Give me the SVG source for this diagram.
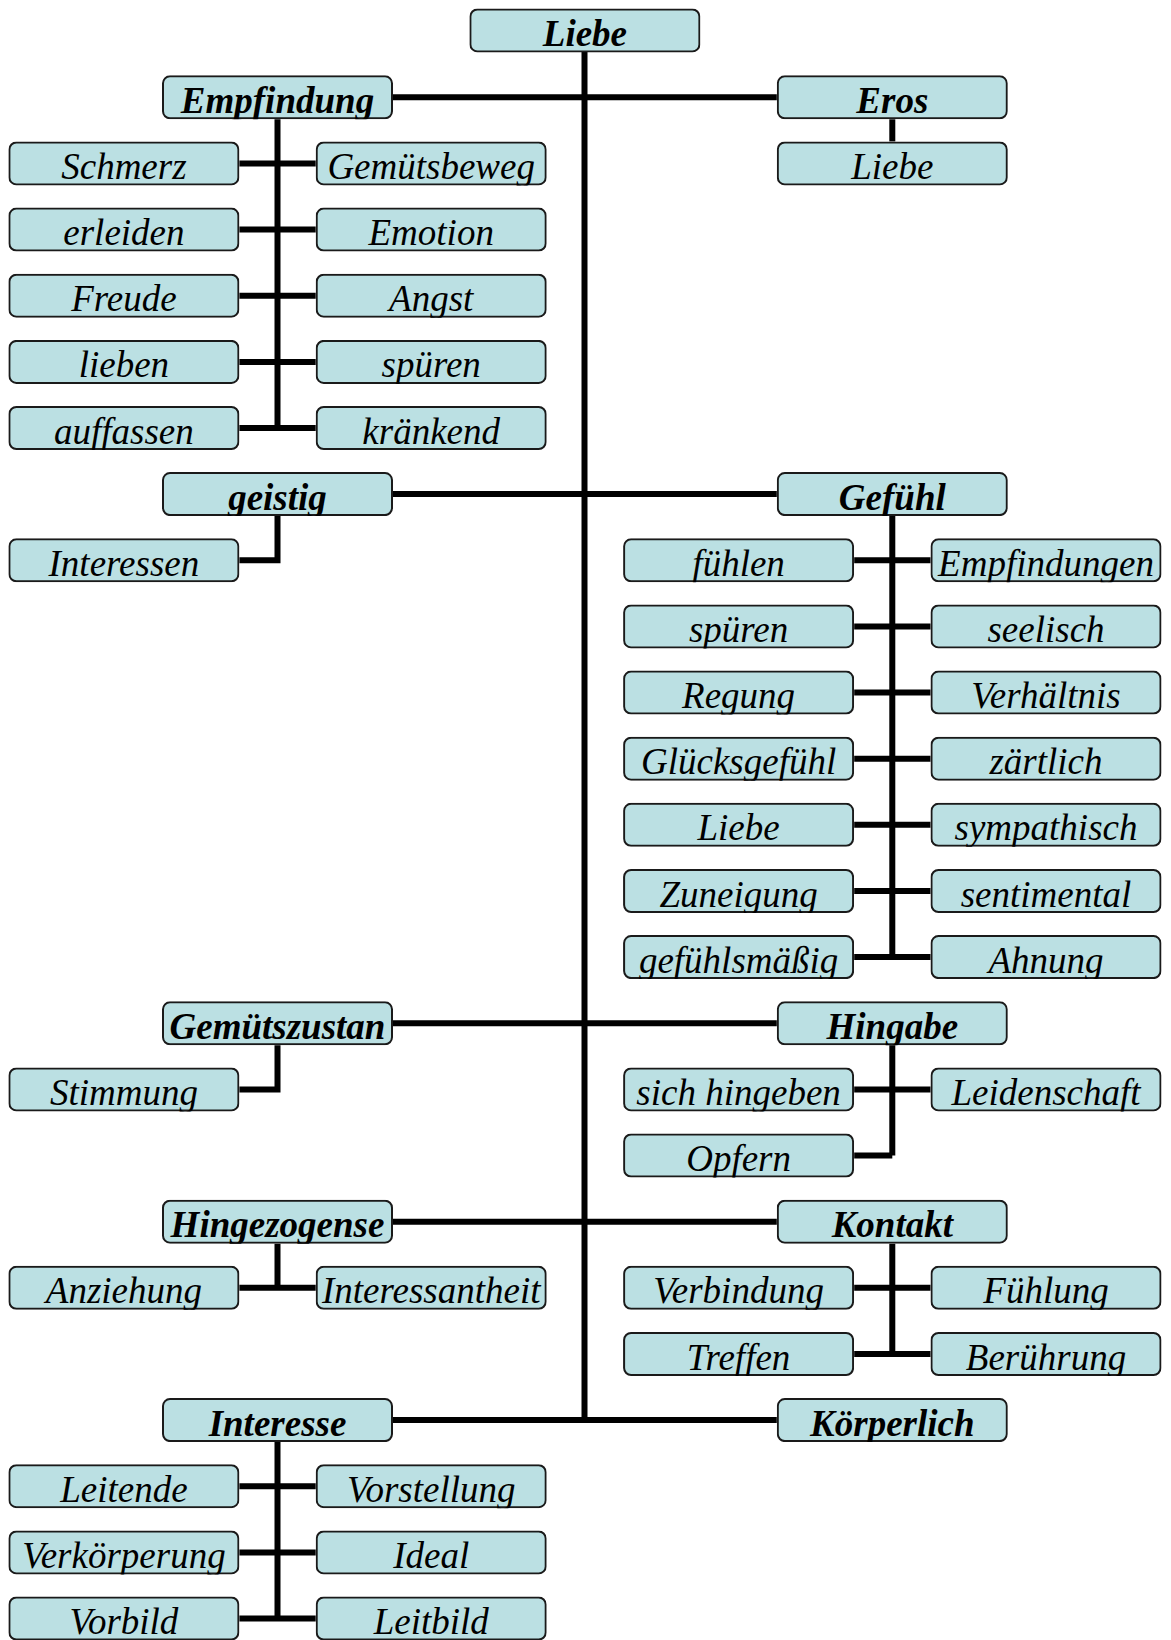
<svg xmlns="http://www.w3.org/2000/svg" width="1171" height="1640" viewBox="0 0 1171 1640">
<style>
.bx{fill:#BBE0E3;stroke:#1a1a1a;stroke-width:2}
.t{font-family:"Liberation Serif","Times New Roman",serif;font-style:italic;font-size:37px;fill:#000;text-anchor:middle}
.b{font-weight:bold}
.c{fill:none;stroke:#000;stroke-width:6}
</style>
<rect width="1171" height="1640" fill="#fff"/>
<g id="connectors" class="c">
<path d="M584.5 52 V1420.1"/>
<path d="M393 97.3 H776.8 M393 494.1 H776.8 M393 1023.3 H776.8 M393 1221.7 H776.8 M393 1420.1 H776.8"/>
<path d="M277.5 119.3 V428 M239.4 163.4 H315.7 M239.4 229.6 H315.7 M239.4 295.7 H315.7 M239.4 361.9 H315.7 M239.4 428 H315.7"/>
<path d="M277.5 516.1 V560.3 H239.4"/>
<path d="M277.5 1045.3 V1089.4 H239.4"/>
<path d="M277.5 1243.7 V1287.8 M239.4 1287.8 H315.7"/>
<path d="M277.5 1442.1 V1618.5 M239.4 1486.2 H315.7 M239.4 1552.4 H315.7 M239.4 1618.5 H315.7"/>
<path d="M892.3 119.3 V141.4"/>
<path d="M892.3 516.1 V957.1 M854.2 560.3 H930.5 M854.2 626.4 H930.5 M854.2 692.6 H930.5 M854.2 758.7 H930.5 M854.2 824.8 H930.5 M854.2 891 H930.5 M854.2 957.1 H930.5"/>
<path d="M892.3 1045.3 V1155.5 M854.2 1089.4 H930.5 M854.2 1155.5 H892.3"/>
<path d="M892.3 1243.7 V1354 M854.2 1287.8 H930.5 M854.2 1354 H930.5"/>
</g>
<g id="n-liebe"><svg x="469.4" y="8.4" width="231" height="44"><rect class="bx" x="1" y="1" width="229" height="42" rx="7"/><text class="t b" x="115.5" y="37.5">Liebe</text></svg></g>
<g id="n-empfindung"><svg x="162" y="75.3" width="231" height="44"><rect class="bx" x="1" y="1" width="229" height="42" rx="7"/><text class="t b" x="115.5" y="37.5">Empfindung</text></svg></g>
<g id="n-eros"><svg x="776.8" y="75.3" width="231" height="44"><rect class="bx" x="1" y="1" width="229" height="42" rx="7"/><text class="t b" x="115.5" y="37.5">Eros</text></svg></g>
<g id="n-eros-liebe"><svg x="776.8" y="141.4" width="231" height="44"><rect class="bx" x="1" y="1" width="229" height="42" rx="7"/><text class="t" x="115.5" y="37.5">Liebe</text></svg></g>
<g id="n-schmerz"><svg x="8.4" y="141.4" width="231" height="44"><rect class="bx" x="1" y="1" width="229" height="42" rx="7"/><text class="t" x="115.5" y="37.5">Schmerz</text></svg></g>
<g id="n-gemuetsbeweg"><svg x="315.7" y="141.4" width="231" height="44"><rect class="bx" x="1" y="1" width="229" height="42" rx="7"/><text class="t" x="115.5" y="37.5">Gemütsbeweg</text></svg></g>
<g id="n-erleiden"><svg x="8.4" y="207.6" width="231" height="44"><rect class="bx" x="1" y="1" width="229" height="42" rx="7"/><text class="t" x="115.5" y="37.5">erleiden</text></svg></g>
<g id="n-emotion"><svg x="315.7" y="207.6" width="231" height="44"><rect class="bx" x="1" y="1" width="229" height="42" rx="7"/><text class="t" x="115.5" y="37.5">Emotion</text></svg></g>
<g id="n-freude"><svg x="8.4" y="273.7" width="231" height="44"><rect class="bx" x="1" y="1" width="229" height="42" rx="7"/><text class="t" x="115.5" y="37.5">Freude</text></svg></g>
<g id="n-angst"><svg x="315.7" y="273.7" width="231" height="44"><rect class="bx" x="1" y="1" width="229" height="42" rx="7"/><text class="t" x="115.5" y="37.5">Angst</text></svg></g>
<g id="n-lieben"><svg x="8.4" y="339.9" width="231" height="44"><rect class="bx" x="1" y="1" width="229" height="42" rx="7"/><text class="t" x="115.5" y="37.5">lieben</text></svg></g>
<g id="n-spueren1"><svg x="315.7" y="339.9" width="231" height="44"><rect class="bx" x="1" y="1" width="229" height="42" rx="7"/><text class="t" x="115.5" y="37.5">spüren</text></svg></g>
<g id="n-auffassen"><svg x="8.4" y="406" width="231" height="44"><rect class="bx" x="1" y="1" width="229" height="42" rx="7"/><text class="t" x="115.5" y="37.5">auffassen</text></svg></g>
<g id="n-kraenkend"><svg x="315.7" y="406" width="231" height="44"><rect class="bx" x="1" y="1" width="229" height="42" rx="7"/><text class="t" x="115.5" y="37.5">kränkend</text></svg></g>
<g id="n-geistig"><svg x="162" y="472.1" width="231" height="44"><rect class="bx" x="1" y="1" width="229" height="42" rx="7"/><text class="t b" x="115.5" y="37.5">geistig</text></svg></g>
<g id="n-gefuehl"><svg x="776.8" y="472.1" width="231" height="44"><rect class="bx" x="1" y="1" width="229" height="42" rx="7"/><text class="t b" x="115.5" y="37.5">Gefühl</text></svg></g>
<g id="n-interessen"><svg x="8.4" y="538.3" width="231" height="44"><rect class="bx" x="1" y="1" width="229" height="42" rx="7"/><text class="t" x="115.5" y="37.5">Interessen</text></svg></g>
<g id="n-fuehlen"><svg x="623.1" y="538.3" width="231" height="44"><rect class="bx" x="1" y="1" width="229" height="42" rx="7"/><text class="t" x="115.5" y="37.5">fühlen</text></svg></g>
<g id="n-empfindungen"><svg x="930.5" y="538.3" width="231" height="44"><rect class="bx" x="1" y="1" width="229" height="42" rx="7"/><text class="t" x="115.5" y="37.5">Empfindungen</text></svg></g>
<g id="n-spueren2"><svg x="623.1" y="604.4" width="231" height="44"><rect class="bx" x="1" y="1" width="229" height="42" rx="7"/><text class="t" x="115.5" y="37.5">spüren</text></svg></g>
<g id="n-seelisch"><svg x="930.5" y="604.4" width="231" height="44"><rect class="bx" x="1" y="1" width="229" height="42" rx="7"/><text class="t" x="115.5" y="37.5">seelisch</text></svg></g>
<g id="n-regung"><svg x="623.1" y="670.6" width="231" height="44"><rect class="bx" x="1" y="1" width="229" height="42" rx="7"/><text class="t" x="115.5" y="37.5">Regung</text></svg></g>
<g id="n-verhaeltnis"><svg x="930.5" y="670.6" width="231" height="44"><rect class="bx" x="1" y="1" width="229" height="42" rx="7"/><text class="t" x="115.5" y="37.5">Verhältnis</text></svg></g>
<g id="n-gluecksgefuehl"><svg x="623.1" y="736.7" width="231" height="44"><rect class="bx" x="1" y="1" width="229" height="42" rx="7"/><text class="t" x="115.5" y="37.5">Glücksgefühl</text></svg></g>
<g id="n-zaertlich"><svg x="930.5" y="736.7" width="231" height="44"><rect class="bx" x="1" y="1" width="229" height="42" rx="7"/><text class="t" x="115.5" y="37.5">zärtlich</text></svg></g>
<g id="n-gefuehl-liebe"><svg x="623.1" y="802.8" width="231" height="44"><rect class="bx" x="1" y="1" width="229" height="42" rx="7"/><text class="t" x="115.5" y="37.5">Liebe</text></svg></g>
<g id="n-sympathisch"><svg x="930.5" y="802.8" width="231" height="44"><rect class="bx" x="1" y="1" width="229" height="42" rx="7"/><text class="t" x="115.5" y="37.5">sympathisch</text></svg></g>
<g id="n-zuneigung"><svg x="623.1" y="869" width="231" height="44"><rect class="bx" x="1" y="1" width="229" height="42" rx="7"/><text class="t" x="115.5" y="37.5">Zuneigung</text></svg></g>
<g id="n-sentimental"><svg x="930.5" y="869" width="231" height="44"><rect class="bx" x="1" y="1" width="229" height="42" rx="7"/><text class="t" x="115.5" y="37.5">sentimental</text></svg></g>
<g id="n-gefuehlsmaessig"><svg x="623.1" y="935.1" width="231" height="44"><rect class="bx" x="1" y="1" width="229" height="42" rx="7"/><text class="t" x="115.5" y="37.5">gefühlsmäßig</text></svg></g>
<g id="n-ahnung"><svg x="930.5" y="935.1" width="231" height="44"><rect class="bx" x="1" y="1" width="229" height="42" rx="7"/><text class="t" x="115.5" y="37.5">Ahnung</text></svg></g>
<g id="n-gemuetszustan"><svg x="162" y="1001.3" width="231" height="44"><rect class="bx" x="1" y="1" width="229" height="42" rx="7"/><text class="t b" x="115.5" y="37.5">Gemütszustan</text></svg></g>
<g id="n-hingabe"><svg x="776.8" y="1001.3" width="231" height="44"><rect class="bx" x="1" y="1" width="229" height="42" rx="7"/><text class="t b" x="115.5" y="37.5">Hingabe</text></svg></g>
<g id="n-stimmung"><svg x="8.4" y="1067.4" width="231" height="44"><rect class="bx" x="1" y="1" width="229" height="42" rx="7"/><text class="t" x="115.5" y="37.5">Stimmung</text></svg></g>
<g id="n-sich-hingeben"><svg x="623.1" y="1067.4" width="231" height="44"><rect class="bx" x="1" y="1" width="229" height="42" rx="7"/><text class="t" x="115.5" y="37.5">sich hingeben</text></svg></g>
<g id="n-leidenschaft"><svg x="930.5" y="1067.4" width="231" height="44"><rect class="bx" x="1" y="1" width="229" height="42" rx="7"/><text class="t" x="115.5" y="37.5">Leidenschaft</text></svg></g>
<g id="n-opfern"><svg x="623.1" y="1133.5" width="231" height="44"><rect class="bx" x="1" y="1" width="229" height="42" rx="7"/><text class="t" x="115.5" y="37.5">Opfern</text></svg></g>
<g id="n-hingezogense"><svg x="162" y="1199.7" width="231" height="44"><rect class="bx" x="1" y="1" width="229" height="42" rx="7"/><text class="t b" x="115.5" y="37.5">Hingezogense</text></svg></g>
<g id="n-kontakt"><svg x="776.8" y="1199.7" width="231" height="44"><rect class="bx" x="1" y="1" width="229" height="42" rx="7"/><text class="t b" x="115.5" y="37.5">Kontakt</text></svg></g>
<g id="n-anziehung"><svg x="8.4" y="1265.8" width="231" height="44"><rect class="bx" x="1" y="1" width="229" height="42" rx="7"/><text class="t" x="115.5" y="37.5">Anziehung</text></svg></g>
<g id="n-interessantheit"><svg x="315.7" y="1265.8" width="231" height="44"><rect class="bx" x="1" y="1" width="229" height="42" rx="7"/><text class="t" x="115.5" y="37.5">Interessantheit</text></svg></g>
<g id="n-verbindung"><svg x="623.1" y="1265.8" width="231" height="44"><rect class="bx" x="1" y="1" width="229" height="42" rx="7"/><text class="t" x="115.5" y="37.5">Verbindung</text></svg></g>
<g id="n-fuehlung"><svg x="930.5" y="1265.8" width="231" height="44"><rect class="bx" x="1" y="1" width="229" height="42" rx="7"/><text class="t" x="115.5" y="37.5">Fühlung</text></svg></g>
<g id="n-treffen"><svg x="623.1" y="1332" width="231" height="44"><rect class="bx" x="1" y="1" width="229" height="42" rx="7"/><text class="t" x="115.5" y="37.5">Treffen</text></svg></g>
<g id="n-beruehrung"><svg x="930.5" y="1332" width="231" height="44"><rect class="bx" x="1" y="1" width="229" height="42" rx="7"/><text class="t" x="115.5" y="37.5">Berührung</text></svg></g>
<g id="n-interesse"><svg x="162" y="1398.1" width="231" height="44"><rect class="bx" x="1" y="1" width="229" height="42" rx="7"/><text class="t b" x="115.5" y="37.5">Interesse</text></svg></g>
<g id="n-koerperlich"><svg x="776.8" y="1398.1" width="231" height="44"><rect class="bx" x="1" y="1" width="229" height="42" rx="7"/><text class="t b" x="115.5" y="37.5">Körperlich</text></svg></g>
<g id="n-leitende"><svg x="8.4" y="1464.2" width="231" height="44"><rect class="bx" x="1" y="1" width="229" height="42" rx="7"/><text class="t" x="115.5" y="37.5">Leitende</text></svg></g>
<g id="n-vorstellung"><svg x="315.7" y="1464.2" width="231" height="44"><rect class="bx" x="1" y="1" width="229" height="42" rx="7"/><text class="t" x="115.5" y="37.5">Vorstellung</text></svg></g>
<g id="n-verkoerperung"><svg x="8.4" y="1530.4" width="231" height="44"><rect class="bx" x="1" y="1" width="229" height="42" rx="7"/><text class="t" x="115.5" y="37.5">Verkörperung</text></svg></g>
<g id="n-ideal"><svg x="315.7" y="1530.4" width="231" height="44"><rect class="bx" x="1" y="1" width="229" height="42" rx="7"/><text class="t" x="115.5" y="37.5">Ideal</text></svg></g>
<g id="n-vorbild"><svg x="8.4" y="1596.5" width="231" height="44"><rect class="bx" x="1" y="1" width="229" height="42" rx="7"/><text class="t" x="115.5" y="37.5">Vorbild</text></svg></g>
<g id="n-leitbild"><svg x="315.7" y="1596.5" width="231" height="44"><rect class="bx" x="1" y="1" width="229" height="42" rx="7"/><text class="t" x="115.5" y="37.5">Leitbild</text></svg></g>
</svg>
